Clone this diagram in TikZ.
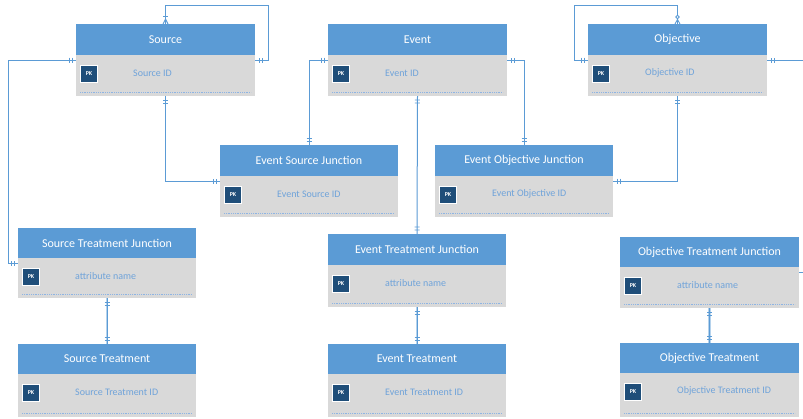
\documentclass[tikz,border=0pt]{standalone}
\usepackage{fontspec}
\setmainfont{Carlito}
\usetikzlibrary{calc,decorations.markings}
\definecolor{hdrblue}{HTML}{5B9BD5}
\definecolor{bodygray}{HTML}{D9D9D9}
\definecolor{pkblue}{HTML}{1F4E79}
\definecolor{attrblue}{HTML}{6FA3DA}
\definecolor{lineblue}{HTML}{5B9BD5}
\definecolor{dashblue}{HTML}{8EB4E3}
\tikzset{
  hdr/.style={fill=hdrblue, text=white, inner sep=0pt, outer sep=0pt, anchor=north west,
    font=\fontsize{12}{14}\selectfont},
  bdy/.style={fill=bodygray, inner sep=0pt, outer sep=0pt, anchor=north west},
  pkbox/.style={fill=pkblue, draw=white, line width=0.8pt, minimum size=17pt, inner sep=0pt,
    text=white, font=\fontsize{6}{7}\selectfont\bfseries},
  attr/.style={text=attrblue, inner sep=0pt, anchor=west, font=\fontsize{10}{12}\selectfont},
  dashline/.style={draw=dashblue, line width=0.6pt, dash pattern=on 1pt off 0.8pt},
  mk/.style={draw=lineblue, line width=0.9pt},
  conn/.style={draw=lineblue, line width=1pt},
  vconn/.style={draw=lineblue!45, line width=2.6pt, postaction={draw=lineblue, line width=0.8pt}},
  barsS/.style={postaction={decorate,decoration={markings,
     mark=at position 4pt with {\draw[mk] (0,-2.5pt)--(0,2.5pt);},
     mark=at position 7pt with {\draw[mk] (0,-2.5pt)--(0,2.5pt);}}}},
  barsE/.style={postaction={decorate,decoration={markings,
     mark=at position -7pt with {\draw[mk] (0,-2.5pt)--(0,2.5pt);},
     mark=at position -4pt with {\draw[mk] (0,-2.5pt)--(0,2.5pt);}}}},
  onemanyE/.style={postaction={decorate,decoration={markings,
     mark=at position -8pt with {\draw[mk] (0,-2.5pt)--(0,2.5pt);},
     mark=at position -5pt with {\draw[mk] (5pt,2.5pt)--(0,0)--(5pt,-2.5pt);}}}},
  zeromanyE/.style={postaction={decorate,decoration={markings,
     mark=at position -7pt with {\draw[mk,fill=white] (0,0) circle (1.8pt);},
     mark=at position -4.5pt with {\draw[mk] (4.5pt,2.5pt)--(0,0)--(4.5pt,-2.5pt);}}}},
}
\newcommand\erent[8]{%
  \node[hdr, minimum width=#4pt, minimum height=#5pt] (#1) at (#2,#3) {#7};
  \node[bdy, minimum width=#4pt, minimum height=#6pt] (#1b) at (#1.south west) {};
  \node[pkbox] (#1pk) at ([xshift=13pt,yshift=-19pt]#1b.north west) {PK};
  \node[attr] (#1at) at ([xshift=57pt,yshift=-18pt]#1b.north west) {#8};
  \draw[dashline] ([xshift=4pt,yshift=4pt]#1b.south west) -- ([xshift=-4pt,yshift=4pt]#1b.south east);
}
\begin{document}
\begin{tikzpicture}[x=1pt,y=-1pt]
\useasboundingbox[fill=white] (0,0) rectangle (803,418);
% entities
\erent{src}{76}{24}{179}{31}{41}{Source}{Source ID}
\erent{evt}{328}{24}{179}{31}{41}{Event}{Event ID}
\erent{obj}{588}{24}{179}{31}{41}{Objective}{Objective ID}
\erent{esj}{220}{145}{178}{31}{41}{Event Source Junction}{Event Source ID}
\erent{eoj}{435}{145}{178}{31}{41}{Event Objective Junction}{Event Objective ID}
\erent{stj}{18}{228}{178}{30}{40}{Source Treatment Junction}{attribute name}
\erent{etj}{328}{234}{178}{31}{42}{Event Treatment Junction}{attribute name}
\erent{otj}{620}{237}{179}{30}{41}{Objective Treatment Junction}{attribute name}
\erent{st}{18}{344}{178}{30}{43}{Source Treatment}{Source Treatment ID}
\erent{et}{328}{344}{178}{30}{43}{Event Treatment}{Event Treatment ID}
\erent{ot}{620}{343}{179}{30}{44}{Objective Treatment}{Objective Treatment ID}
% free ends
\coordinate (objR) at (803,60);
\coordinate (otjR) at (803,272);
% connectors
\draw[conn,barsS,barsE] (srcb.south) |- ([yshift=-5pt]esjb.north west);
\draw[conn,barsS,barsE] ([yshift=-5pt]evtb.north west) -| (esj.north);
\draw[conn,barsS,barsE] ([yshift=-5pt]evtb.north east) -| (eoj.north);
\draw[conn,barsS,barsE] (objb.south) |- ([yshift=-5pt]eojb.north east);
\draw[conn,barsS,barsE] (evtb.south) -- (etj.north);
\draw[conn,barsS,barsE] ([yshift=-5pt]srcb.north west) -| (8,263) -- ([yshift=-5pt]stjb.north west);
\draw[conn,barsS,onemanyE] ([yshift=-5pt]srcb.north east) -| (268,5) -| (src.north);
\draw[conn,barsS,zeromanyE] ([yshift=-5pt]objb.north west) -| (574,5) -| (obj.north);
\draw[conn,barsS] ([yshift=-5pt]objb.north east) -- (objR);
\draw[conn] ([yshift=-5pt]otjb.north east) -- (otjR);
\draw[vconn,barsS,barsE] (stjb.south) -- (st.north);
\draw[vconn,barsS,barsE] (etjb.south) -- (et.north);
\draw[vconn,barsS,barsE] (otjb.south) -- (ot.north);
\end{tikzpicture}
\end{document}
